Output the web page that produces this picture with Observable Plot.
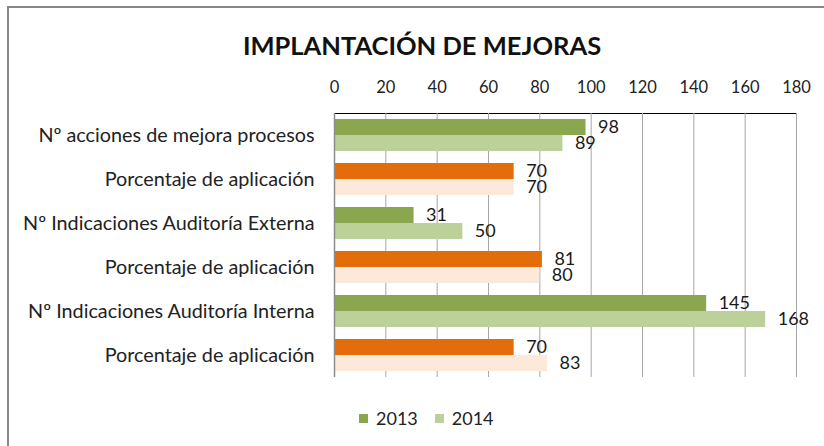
<!DOCTYPE html>
<html>
<head>
<meta charset="utf-8">
<script src="https://cdn.jsdelivr.net/npm/d3@7"></script>
<script src="https://cdn.jsdelivr.net/npm/@observablehq/plot@0.6"></script>
<style>
  body { margin: 0; background: #fff; font-family: Lato, "Open Sans", sans-serif; }
  #wrap { position: relative; width: 824px; height: 446px; overflow: hidden; }
  #frame { position: absolute; left: 7px; top: 6px; width: 840px; height: 460px;
           border-top: 2px solid #878787; border-left: 2px solid #878787; }
  #title { position: absolute; left: 0; width: 844px; top: 29px; text-align: center;
           font-weight: bold; font-size: 25.5px; color: #111; line-height: 32px; }
  #chart { position: absolute; left: 0; top: 66px; }
  #legend { position: absolute; left: 359px; top: 407px; font-size: 18px; color: #222;
            display: flex; align-items: center; line-height: 22px; }
  #legend .sw { display: inline-block; width: 9px; height: 9px; margin-right: 8px; }
  #legend .item { display: flex; align-items: center; margin-right: 17px; }
</style>
</head>
<body>
<div id="wrap">
  <div id="frame"></div>
  <div id="title">IMPLANTACIÓN DE MEJORAS</div>
  <div id="chart"></div>
  <div id="legend"></div>
</div>
<script>
const categories = [
  "Nº acciones de mejora procesos",
  "Porcentaje de aplicación",
  "Nº Indicaciones Auditoría Externa",
  "Porcentaje de aplicación",
  "Nº Indicaciones Auditoría Interna",
  "Porcentaje de aplicación"
];
const rowKinds = ["count", "pct", "count", "pct", "count", "pct"];
const years = [2013, 2014];
const values2013 = [98, 70, 31, 81, 145, 70];
const values2014 = [89, 70, 50, 80, 168, 83];
const xTicks = [0, 20, 40, 60, 80, 100, 120, 140, 160, 180];
const colorKeys = ["count2013", "count2014", "pct2013", "pct2014"];
const colorRange = ["#8aa64f", "#bcd09a", "#e46c0a", "#fde9d9"];

const rows = [];
categories.forEach((c, i) => {
  rows.push({idx: i, year: 2013, value: values2013[i], key: rowKinds[i] + "2013"});
  rows.push({idx: i, year: 2014, value: values2014[i], key: rowKinds[i] + "2014"});
});

const chart = Plot.plot({
  width: 824,
  height: 340,
  marginTop: 47,
  marginBottom: 29,
  marginLeft: 334,
  marginRight: 28,
  style: {fontFamily: "Lato, 'Open Sans', sans-serif", fontSize: "16px", overflow: "visible", background: "transparent"},
  x: {domain: [0, 180], axis: "top", ticks: xTicks, tickSize: 0, tickPadding: 21,
      line: true, label: null},
  y: {domain: years, axis: null, paddingInner: 0, paddingOuter: 0.375},
  fy: {domain: d3.range(categories.length), axis: "left", padding: 0, tickSize: 0,
       tickPadding: 20, label: null, tickFormat: i => categories[i]},
  color: {domain: colorKeys, range: colorRange},
  marks: [
    Plot.ruleX(xTicks, {stroke: "#a6a6a6", strokeWidth: 1}),
    Plot.barX(rows, {x: "value", y: "year", fy: "idx", fill: "key"}),
    Plot.ruleX([0], {stroke: "#8c8c8c", strokeWidth: 1.5}),
    Plot.text(rows, {x: "value", y: "year", fy: "idx", text: d => String(d.value),
      textAnchor: "start", dx: 12, fontSize: 18, fill: "#1a1a1a"})
  ]
});
document.getElementById("chart").appendChild(chart);
d3.select(chart).selectAll("g[aria-label='x-axis'] text, g[aria-label='x-axis tick label'] text")
  .attr("font-size", 16.5).attr("fill", "#222");
d3.select(chart).selectAll("g[aria-label='fy-axis'] text, g[aria-label='fy-axis tick label'] text")
  .attr("font-size", 19.8).attr("fill", "#222");

const legend = document.getElementById("legend");
years.forEach((y, i) => {
  const item = document.createElement("span");
  item.className = "item";
  const sw = document.createElement("span");
  sw.className = "sw";
  sw.style.background = colorRange[i];
  item.appendChild(sw);
  item.appendChild(document.createTextNode(String(y)));
  legend.appendChild(item);
});
</script>
</body>
</html>
